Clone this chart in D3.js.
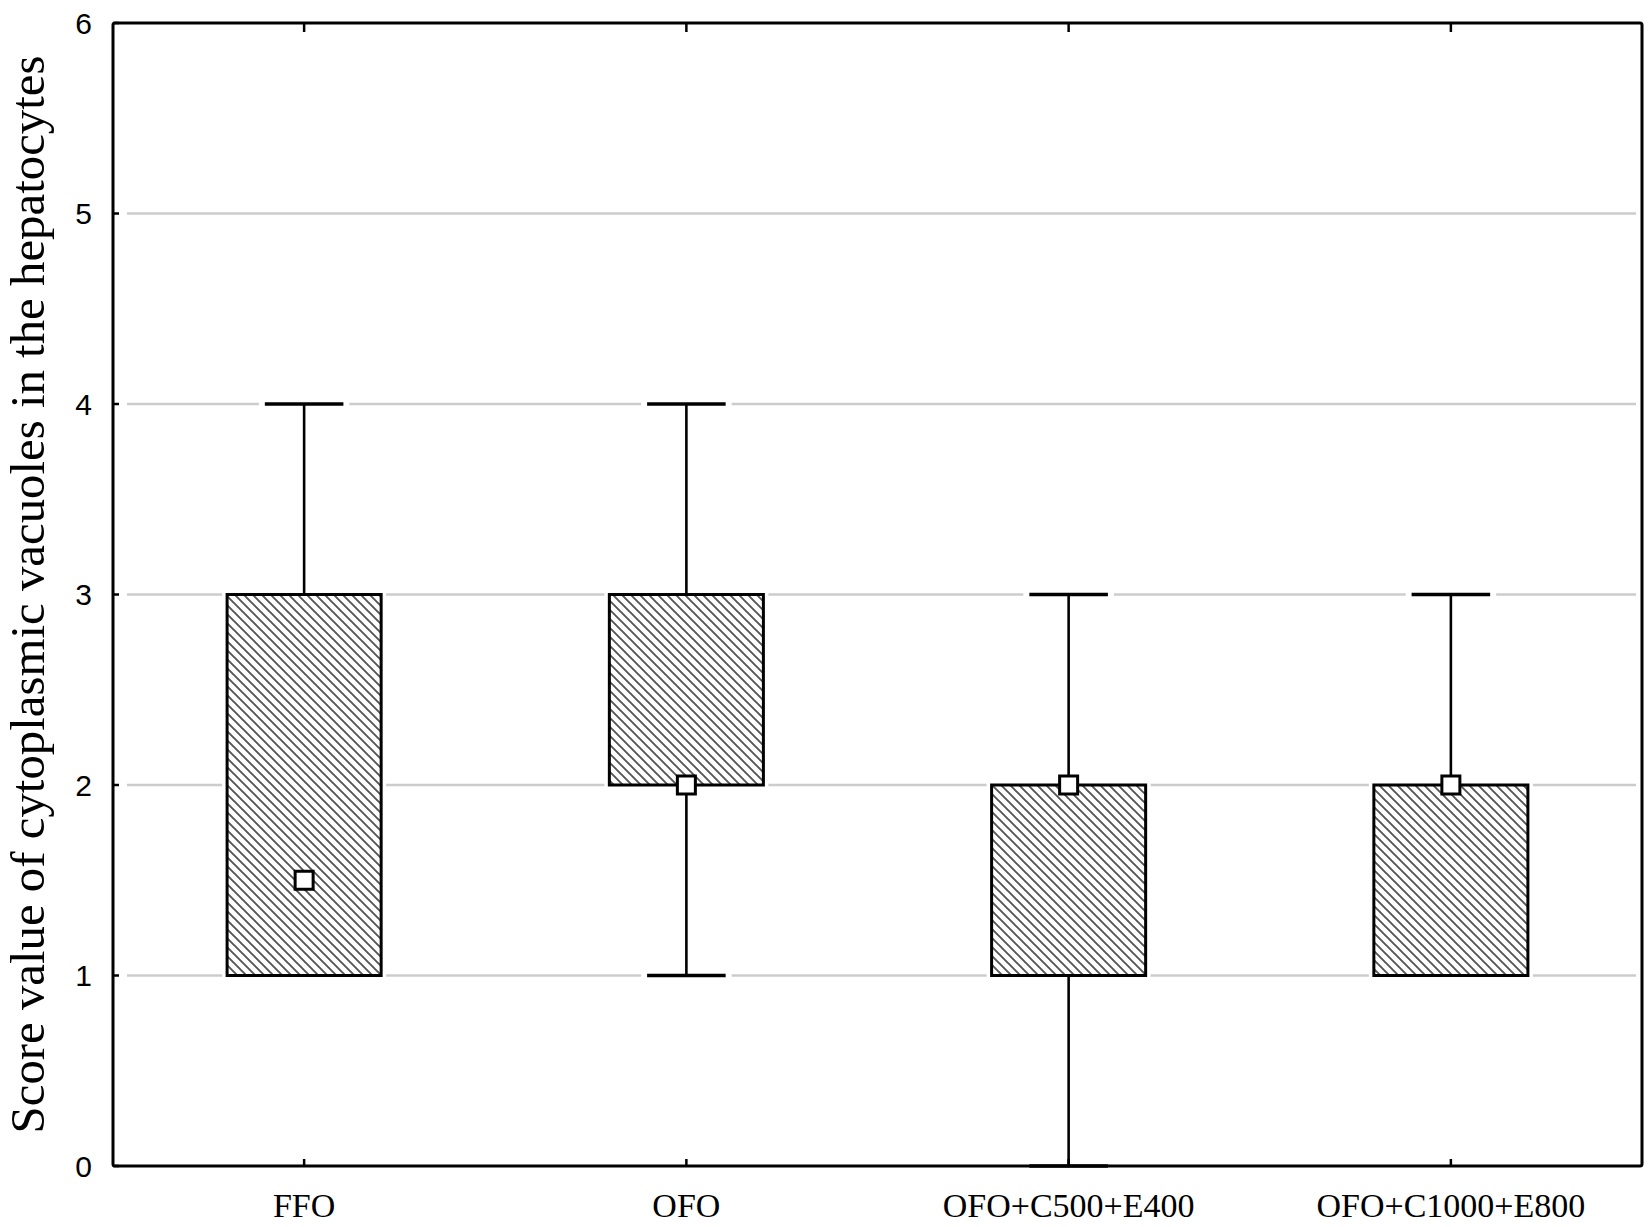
<!DOCTYPE html>
<html>
<head>
<meta charset="utf-8">
<script src="https://cdn.jsdelivr.net/npm/d3@7/dist/d3.min.js"></script>
<style>
  html, body { margin: 0; padding: 0; background: #fff; }
  svg { display: block; }
</style>
</head>
<body>
<svg id="chart" width="1650" height="1227"></svg>
<script>
// ---- data ----
const categories = ["FFO", "OFO", "OFO+C500+E400", "OFO+C1000+E800"];
const medians = [1.5, 2, 2, 2];
const q1 = [1, 2, 1, 1];
const q3 = [3, 3, 2, 2];
const whiskerLow = [1, 1, 0, 1];
const whiskerHigh = [4, 4, 3, 3];
const yTicks = [0, 1, 2, 3, 4, 5, 6];
const gridValues = [1, 2, 3, 4, 5];
const yTitle = "Score value of cytoplasmic vacuoles in the hepatocytes";

(function () {
const pLeft = 113, pRight = 1642, pTop = 23, pBottom = 1166;
const svg = d3.select("#chart");

const x = d3.scaleBand().domain(categories).range([pLeft, pRight]).padding(0);
const y = d3.scaleLinear().domain([0, 6]).range([pBottom, pTop]);

const boxW = x.bandwidth() * 0.403;
const capW = boxW * 0.51;
const idx = d3.range(categories.length);
const cx = i => x(categories[i]) + x.bandwidth() / 2;

// hatch pattern
const defs = svg.append("defs");
const pat = defs.append("pattern")
  .attr("id", "hatch")
  .attr("patternUnits", "userSpaceOnUse")
  .attr("width", 9).attr("height", 9);
pat.append("rect").attr("width", 9).attr("height", 9).attr("fill", "#fff");
pat.append("path")
  .attr("d", "M-1,-1 L10,10 M-1,8 L1,10 M8,-1 L10,1")
  .attr("stroke", "#555").attr("stroke-width", 1.9);

// gridlines
svg.append("g").selectAll("line").data(gridValues).join("line")
  .attr("x1", pLeft + 14).attr("x2", pRight - 6)
  .attr("y1", d => y(d)).attr("y2", d => y(d))
  .attr("stroke", "#cccccc").attr("stroke-width", 2.5);

// whisker segments
const segs = [];
idx.forEach(i => {
  if (whiskerHigh[i] > q3[i]) segs.push({ i, v: whiskerHigh[i], e: q3[i] });
  if (whiskerLow[i] < q1[i]) segs.push({ i, v: whiskerLow[i], e: q1[i] });
});

// halos
const halo = svg.append("g");
halo.selectAll("rect").data(idx).join("rect")
  .attr("x", i => cx(i) - boxW / 2).attr("width", boxW)
  .attr("y", i => y(q3[i])).attr("height", i => y(q1[i]) - y(q3[i]))
  .attr("fill", "#fff").attr("stroke", "#fff").attr("stroke-width", 10);
halo.selectAll("line").data(segs).join("line")
  .attr("x1", d => cx(d.i) - capW / 2 - 6).attr("x2", d => cx(d.i) + capW / 2 + 6)
  .attr("y1", d => y(d.v)).attr("y2", d => y(d.v))
  .attr("stroke", "#fff").attr("stroke-width", 6);

// whisker stems
svg.append("g").selectAll("line").data(segs).join("line")
  .attr("x1", d => cx(d.i)).attr("x2", d => cx(d.i))
  .attr("y1", d => y(d.v)).attr("y2", d => y(d.e))
  .attr("stroke", "#000").attr("stroke-width", 2.6);

// boxes
svg.append("g").selectAll("rect").data(idx).join("rect")
  .attr("x", i => cx(i) - boxW / 2).attr("width", boxW)
  .attr("y", i => y(q3[i])).attr("height", i => y(q1[i]) - y(q3[i]))
  .attr("fill", "url(#hatch)").attr("stroke", "#000").attr("stroke-width", 3);

// caps
svg.append("g").selectAll("line").data(segs).join("line")
  .attr("x1", d => cx(d.i) - capW / 2).attr("x2", d => cx(d.i) + capW / 2)
  .attr("y1", d => y(d.v)).attr("y2", d => y(d.v))
  .attr("stroke", "#000").attr("stroke-width", 3.6);

// median markers
const mk = 18;
svg.append("g").selectAll("rect").data(idx).join("rect")
  .attr("x", i => cx(i) - mk / 2).attr("y", i => y(medians[i]) - mk / 2)
  .attr("width", mk).attr("height", mk)
  .attr("fill", "#fff").attr("stroke", "#000").attr("stroke-width", 3);

// frame
svg.append("rect")
  .attr("x", pLeft).attr("y", pTop)
  .attr("width", pRight - pLeft).attr("height", pBottom - pTop)
  .attr("fill", "none").attr("stroke", "#000").attr("stroke-width", 3)
  .attr("rx", 2);

// ticks
svg.append("g").selectAll("line").data(yTicks).join("line")
  .attr("x1", pLeft).attr("x2", pLeft + 6)
  .attr("y1", d => y(d)).attr("y2", d => y(d))
  .attr("stroke", "#000").attr("stroke-width", 2.5);
svg.append("g").selectAll("line").data(categories).join("line")
  .attr("x1", d => x(d) + x.bandwidth() / 2).attr("x2", d => x(d) + x.bandwidth() / 2)
  .attr("y1", pTop).attr("y2", pTop + 9)
  .attr("stroke", "#000").attr("stroke-width", 2.5);
svg.append("g").selectAll("line").data(categories).join("line")
  .attr("x1", d => x(d) + x.bandwidth() / 2).attr("x2", d => x(d) + x.bandwidth() / 2)
  .attr("y1", pBottom).attr("y2", pBottom - 7)
  .attr("stroke", "#000").attr("stroke-width", 2.5);

// y tick labels
svg.append("g").selectAll("text").data(yTicks).join("text")
  .attr("x", 92).attr("y", d => y(d))
  .attr("dy", "0.36em")
  .attr("text-anchor", "end")
  .attr("font-family", "Liberation Sans, Arial, sans-serif")
  .attr("font-size", 30)
  .attr("fill", "#000")
  .text(d => d);

// x labels
svg.append("g").selectAll("text").data(categories).join("text")
  .attr("x", d => x(d) + x.bandwidth() / 2).attr("y", 1217)
  .attr("text-anchor", "middle")
  .attr("font-family", "Liberation Serif, Times New Roman, serif")
  .attr("font-size", 34)
  .attr("fill", "#000")
  .text(d => d);

// y title, sized to span the measured length
const t = svg.append("text")
  .attr("transform", `translate(44,${(pTop + pBottom) / 2}) rotate(-90)`)
  .attr("text-anchor", "middle")
  .attr("font-family", "Liberation Serif, Times New Roman, serif")
  .attr("font-size", 40)
  .attr("fill", "#000")
  .text(yTitle);
const len = t.node().getComputedTextLength();
t.attr("font-size", 40 * 1078 / len);
})();
</script>
</body>
</html>
